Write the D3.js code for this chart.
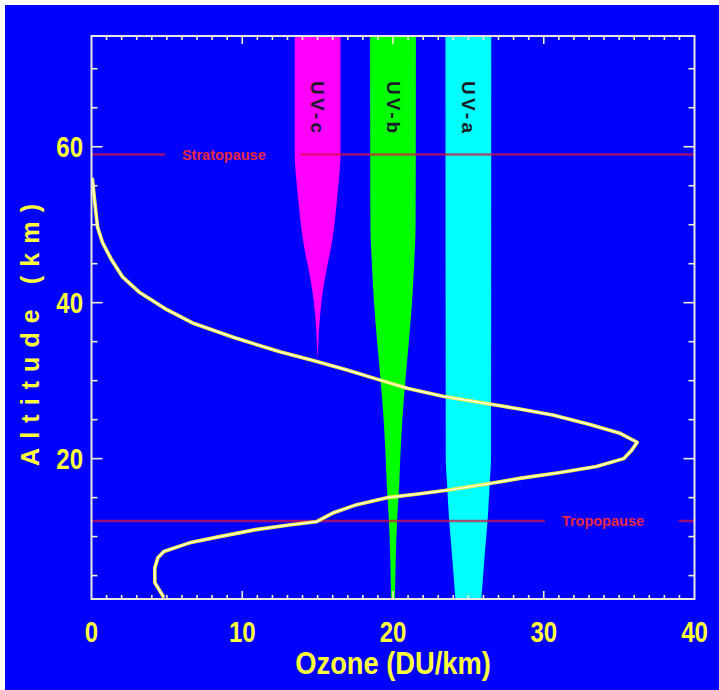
<!DOCTYPE html>
<html>
<head>
<meta charset="utf-8">
<script src="https://cdn.jsdelivr.net/npm/d3@7"></script>
<style>
  html, body { margin: 0; padding: 0; background: #ffffff; }
  svg { display: block; }
  text { font-family: "Liberation Sans", Arial, Helvetica, sans-serif; font-weight: bold; }
</style>
</head>
<body>
<svg id="chart" width="719" height="690"></svg>
<script>
// ---------------- data ----------------
const xTickLabels = [0, 10, 20, 30, 40];
const yTickLabels = [20, 40, 60];
const xTitle = "Ozone (DU/km)";
const yTitle = "Altitude (km)";

// ozone profile (DU/km vs km)
const ozoneAlt = [56, 53.2, 49.7, 47.7, 45.5, 43.3, 41.3, 39.1, 37.4, 35.5, 33.7, 32.6, 31.4, 30.1,
  29.0, 28.0, 27.2, 26.4, 25.6, 24.4, 23.3, 22.1, 21.0, 20.0, 19.0, 18.2, 17.5, 16.8, 16.0, 15.5, 15.0,
  14.1, 13.1, 11.9, 11.5, 10.9, 10.0, 9.2, 8.1, 7.3, 6.0, 4.1, 2.2];
const ozoneVal = [0.05, 0.2, 0.4, 0.73, 1.33, 2.06, 3.2, 5.0, 6.7, 9.5, 12.5, 14.7, 16.9, 19.1,
  21.0, 23.3, 25.8, 28.3, 30.6, 33.0, 35.0, 36.2, 35.8, 35.3, 33.5, 31.0, 28.5, 26.4, 23.8, 21.8, 19.6,
  17.6, 16.1, 14.9, 13.1, 10.9, 8.5, 6.5, 4.8, 4.4, 4.2, 4.2, 4.8];

// UV penetration bands
const uvNames = ["UV-c", "UV-b", "UV-a"];
const uvCenters = [15, 20, 25];
const uvColors = ["#ff00ff", "#00ff00", "#00ffff"];
const uvcAlt = [74.2, 59, 55.5, 52.5, 49.5, 47, 44.5, 42.5, 40.5, 38.5, 36.5, 34.5, 32.5];
const uvcHalf = [1.52, 1.52, 1.4, 1.25, 1.08, 0.88, 0.62, 0.43, 0.28, 0.17, 0.09, 0.04, 0.0];
const uvbAlt = [74.2, 50, 45, 40, 35, 30, 25, 20, 17, 12, 7, 2];
const uvbHalf = [1.52, 1.5, 1.4, 1.26, 1.05, 0.82, 0.62, 0.48, 0.42, 0.27, 0.18, 0.13];
const uvaAlt = [74.2, 20, 17, 12, 8, 5, 2];
const uvaHalf = [1.52, 1.5, 1.42, 1.27, 1.1, 0.98, 0.86];

// atmospheric layer boundaries
const layerNames = ["Stratopause", "Tropopause"];
const layerAlt = [59, 12];
const layerLabelX = [6, 31.2];

// ---------------- layout ----------------
const svg = d3.select("#chart");
const W = 719, H = 690;
const plot = { left: 91.5, right: 694.5, top: 36, bottom: 599 };

svg.append("rect").attr("x", 5).attr("y", 5).attr("width", W - 5).attr("height", H - 5)
  .attr("fill", "#0000ff");

const x = d3.scaleLinear().domain([0, 40]).range([plot.left, plot.right]);
const y = d3.scaleLinear().domain([2, 74.2]).range([plot.bottom, plot.top]);

svg.append("clipPath").attr("id", "clip").append("rect")
  .attr("x", plot.left).attr("y", plot.top)
  .attr("width", plot.right - plot.left).attr("height", plot.bottom - plot.top);

const g = svg.append("g").attr("clip-path", "url(#clip)");

// bands
const bandData = [
  uvcAlt.map((a, i) => ({ alt: a, hw: uvcHalf[i] })),
  uvbAlt.map((a, i) => ({ alt: a, hw: uvbHalf[i] })),
  uvaAlt.map((a, i) => ({ alt: a, hw: uvaHalf[i] }))
];
bandData.forEach((pts, k) => {
  const area = d3.area()
    .y(d => y(d.alt))
    .x0(d => x(uvCenters[k] - d.hw))
    .x1(d => x(uvCenters[k] + d.hw))
    .curve(d3.curveMonotoneY);
  g.append("path").datum(pts).attr("d", area).attr("fill", uvColors[k]);
});

// band labels
uvNames.forEach((name, k) => {
  svg.append("text")
    .attr("transform", `translate(${x(uvCenters[k])},107) rotate(90)`)
    .attr("text-anchor", "middle")
    .attr("dominant-baseline", "central")
    .attr("font-size", 19)
    .attr("textLength", 52)
    .attr("lengthAdjust", "spacing")
    .attr("fill", "#1c1c28")
    .text(name);
});

// layer lines + labels
layerNames.forEach((name, k) => {
  const yy = y(layerAlt[k]);
  const t = svg.append("text")
    .attr("x", x(layerLabelX[k])).attr("y", yy)
    .attr("dominant-baseline", "central")
    .attr("font-size", 14.5)
    .attr("fill", "#e8283c")
    .text(name);
  const bb = t.node().getBBox();
  const segs = [[plot.left, bb.x - 17], [bb.x + bb.width + 35, plot.right]];
  segs.forEach(s => {
    g.append("line").attr("x1", s[0]).attr("x2", s[1]).attr("y1", yy).attr("y2", yy)
      .attr("stroke", "#d81040").attr("stroke-opacity", 0.72).attr("stroke-width", 2.5);
  });
});

// ozone curve
const ozPts = ozoneAlt.map((a, i) => [ozoneVal[i], a]);
const line = d3.line().x(d => x(d[0])).y(d => y(d[1]));
g.append("path").datum(ozPts).attr("d", line).attr("fill", "none")
  .attr("stroke", "#f4f040").attr("stroke-width", 3.6).attr("stroke-linejoin", "round");
g.append("path").datum(ozPts).attr("d", line).attr("fill", "none")
  .attr("stroke", "#ffffe8").attr("stroke-width", 1.4).attr("stroke-linejoin", "round");

// ---------------- axes ----------------
const axisColor = "#e8e8e0";
const tickColor = "#f0f0c8";
const xMinor = d3.range(1, 40, 1);
const yMinor = d3.range(5, 75, 5);

const ax = svg.append("g");
xMinor.forEach(v => {
  const major = v % 10 === 0;
  const len = major ? 8 : 4;
  const px = x(v);
  ax.append("line").attr("x1", px).attr("x2", px).attr("y1", plot.bottom).attr("y2", plot.bottom - len)
    .attr("stroke", tickColor).attr("stroke-width", 1.6);
  ax.append("line").attr("x1", px).attr("x2", px).attr("y1", plot.top).attr("y2", plot.top + len)
    .attr("stroke", tickColor).attr("stroke-width", 1.6);
});
yMinor.forEach(v => {
  const major = v % 20 === 0;
  const len = major ? 11 : 6;
  const py = y(v);
  ax.append("line").attr("x1", plot.left).attr("x2", plot.left + len).attr("y1", py).attr("y2", py)
    .attr("stroke", tickColor).attr("stroke-width", 1.6);
  ax.append("line").attr("x1", plot.right).attr("x2", plot.right - len).attr("y1", py).attr("y2", py)
    .attr("stroke", tickColor).attr("stroke-width", 1.6);
});
ax.append("rect").attr("x", plot.left).attr("y", plot.top)
  .attr("width", plot.right - plot.left).attr("height", plot.bottom - plot.top)
  .attr("fill", "none").attr("stroke", axisColor).attr("stroke-width", 2);

// tick labels
const labelColor = "#ffff3a";
xTickLabels.forEach(v => {
  svg.append("g").attr("transform", `translate(${x(v)},642) scale(0.8,1)`)
    .append("text").attr("text-anchor", "middle").attr("font-size", 30)
    .attr("fill", labelColor).text(v);
});
yTickLabels.forEach(v => {
  svg.append("g").attr("transform", `translate(83,${y(v) + 10.5}) scale(0.8,1)`)
    .append("text").attr("text-anchor", "end").attr("font-size", 30)
    .attr("fill", labelColor).text(v);
});

// axis titles
svg.append("g").attr("transform", "translate(393,674) scale(0.88,1)")
  .append("text").attr("text-anchor", "middle")
  .attr("font-size", 31).attr("fill", labelColor).text(xTitle);
svg.append("text").attr("transform", "translate(39,335) rotate(-90)")
  .attr("text-anchor", "middle").attr("font-size", 25)
  .attr("textLength", 262).attr("lengthAdjust", "spacing")
  .attr("fill", labelColor).text(yTitle);
</script>
</body>
</html>
